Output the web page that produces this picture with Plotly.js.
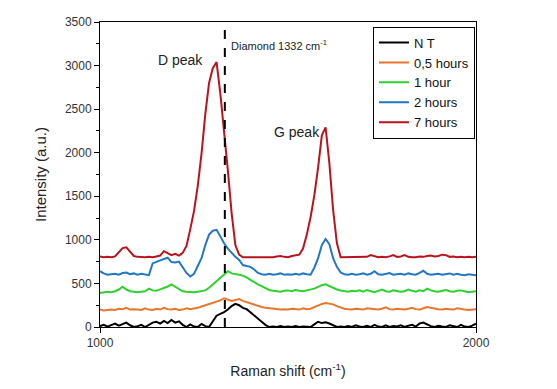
<!DOCTYPE html>
<html>
<head>
<meta charset="utf-8">
<script src="https://cdn.plot.ly/plotly-3.0.1.min.js"></script>
<style>html,body{margin:0;padding:0;background:#fff;}#chart{width:557px;height:389px;}</style>
</head>
<body>
<div id="chart"></div>
<script>
// Raman shift (cm-1)
const ramanShift = [
  1000,1010,1020,1030,1040,1050,1060,1070,1080,1090,
  1100,1110,1120,1130,1140,1150,1160,1170,1180,1190,
  1200,1210,1220,1230,1240,1250,1260,1270,1280,1290,
  1300,1310,1320,1330,1340,1350,1360,1370,1380,1390,
  1400,1410,1420,1430,1440,1450,1460,1470,1480,1490,
  1500,1510,1520,1530,1540,1550,1560,1570,1580,1590,
  1600,1610,1620,1630,1640,1650,1660,1670,1680,1690,
  1700,1710,1720,1730,1740,1750,1760,1770,1780,1790,
  1800,1810,1820,1830,1840,1850,1860,1870,1880,1890,
  1900,1910,1920,1930,1940,1950,1960,1970,1980,1990,
  2000
];
const seriesNames = ["N T", "0,5 hours", "1 hour", "2 hours", "7 hours"];
const seriesColors = ["#000000", "#e8772e", "#2fd12f", "#2277c4", "#b8141e"];

const intensityNT = [
  10,25,5,20,40,15,35,50,20,0,
  10,25,0,30,50,60,40,70,45,80,
  50,65,25,0,30,5,0,35,10,0,
  60,130,150,170,200,240,265,250,220,205,
  170,130,95,60,25,0,5,0,10,0,
  5,0,10,0,5,0,0,30,60,45,
  55,40,20,0,5,0,10,0,20,5,
  0,15,0,25,5,0,20,0,10,5,
  20,0,15,25,5,40,50,30,10,0,
  15,5,0,20,10,0,25,5,0,15,
  40
];
const intensity05h = [
  200,190,195,200,195,210,205,220,200,205,
  200,195,215,200,195,210,200,220,205,200,
  210,195,200,215,205,210,220,235,250,265,
  275,290,305,330,315,300,310,320,300,285,
  270,255,240,230,220,215,210,205,200,205,
  200,210,205,200,215,205,210,230,250,265,
  275,270,260,240,225,210,205,200,210,205,
  200,215,210,205,200,210,225,205,200,210,
  205,200,210,220,205,200,215,230,220,210,
  205,200,210,205,200,215,205,200,195,200,
  205
];
const intensity1h = [
  390,400,405,400,410,430,462,430,410,405,
  400,405,410,440,420,415,430,445,465,490,
  460,430,410,405,400,400,405,410,420,450,
  490,530,570,605,640,615,610,600,590,570,
  540,510,490,470,445,425,415,410,405,415,
  420,410,425,415,410,420,430,440,460,480,
  490,470,450,430,420,410,405,415,410,420,
  405,425,410,400,415,430,410,405,420,410,
  405,410,430,415,405,420,410,440,420,410,
  405,415,425,410,405,415,420,410,400,405,
  410
];
const intensity2h = [
  640,615,600,605,610,600,620,625,605,615,
  600,610,600,595,730,750,765,780,795,745,
  740,750,690,620,580,610,700,790,940,1060,
  1105,1115,1040,960,900,850,805,770,711,700,
  690,660,620,605,600,610,600,605,615,600,
  605,600,610,600,615,605,600,680,790,940,
  1010,950,790,690,625,605,600,610,600,605,
  615,600,610,640,605,600,610,620,600,605,
  610,600,615,605,600,620,645,610,600,605,
  610,600,605,615,600,610,600,595,605,600,
  595
];
const intensity7h = [
  810,800,805,800,810,860,905,915,860,815,
  805,800,800,805,800,810,820,870,850,825,
  840,820,850,930,1120,1330,1620,1990,2440,2800,
  2970,3040,2680,2270,1800,1310,940,830,800,800,
  800,800,800,800,800,805,800,810,815,805,
  800,815,820,830,900,1060,1260,1510,1830,2200,
  2290,1880,1343,964,800,800,800,805,800,800,
  800,805,825,810,800,805,800,810,825,805,
  810,825,805,800,800,810,805,815,820,810,
  815,830,825,805,810,800,805,800,805,800,
  805
];
const seriesValues = [intensityNT, intensity05h, intensity1h, intensity2h, intensity7h];

const diamondLine = 1332;
const yTickVals = [0, 500, 1000, 1500, 2000, 2500, 3000, 3500];
const xTickVals = [1000, 2000];

const FONT = "Arial, 'Liberation Sans', sans-serif";

const traces = seriesNames.map((name, i) => ({
  x: ramanShift,
  y: seriesValues[i],
  type: "scatter",
  mode: "lines",
  name: name,
  line: { color: seriesColors[i], width: 2 }
}));

const layout = {
  width: 557,
  height: 389,
  margin: { l: 100, r: 81, t: 22, b: 62 },
  paper_bgcolor: "#ffffff",
  plot_bgcolor: "#ffffff",
  font: { family: FONT, size: 12, color: "#222" },
  showlegend: true,
  legend: {
    x: 0.726, y: 0.985, xanchor: "left", yanchor: "top",
    bordercolor: "#000", borderwidth: 1, bgcolor: "#fff",
    font: { family: FONT, size: 13, color: "#111" },
    tracegroupgap: 0, itemwidth: 30
  },
  xaxis: {
    range: [1000, 2000],
    tickvals: xTickVals,
    ticktext: xTickVals.map(String),
    ticks: "outside", ticklen: 5, tickwidth: 1, tickcolor: "#000",
    showline: true, linecolor: "#000", linewidth: 1, mirror: true,
    showgrid: false, zeroline: false,
    tickfont: { family: FONT, size: 12, color: "#333" },
    title: { text: "Raman shift (cm<sup>-1</sup>)", standoff: 16, font: { family: FONT, size: 14, color: "#222" } }
  },
  yaxis: {
    range: [0, 3500],
    tickvals: yTickVals,
    ticks: "outside", ticklen: 5, tickwidth: 1, tickcolor: "#000",
    minor: { dtick: 250, ticks: "outside", ticklen: 3, tickcolor: "#000", showgrid: false },
    showline: true, linecolor: "#000", linewidth: 1, mirror: true,
    showgrid: false, zeroline: false,
    tickfont: { family: FONT, size: 12, color: "#333" },
    title: { text: "Intensity (a.u.)", standoff: 14, font: { family: FONT, size: 15, color: "#222" } }
  },
  shapes: [{
    type: "line", xref: "x", yref: "y",
    x0: diamondLine, x1: diamondLine, y0: 0, y1: 3500,
    line: { color: "#000", width: 2, dash: "dash" }
  }],
  annotations: [
    { x: 1343, y: 3236, xref: "x", yref: "y", xanchor: "left", yanchor: "middle", showarrow: false,
      text: "Diamond 1332 cm<sup>-1</sup>", font: { family: FONT, size: 11, color: "#222" } },
    { x: 1213, y: 3064, xref: "x", yref: "y", xanchor: "center", yanchor: "middle", showarrow: false,
      text: "D peak", font: { family: FONT, size: 14, color: "#222" } },
    { x: 1524, y: 2238, xref: "x", yref: "y", xanchor: "center", yanchor: "middle", showarrow: false,
      text: "G peak", font: { family: FONT, size: 14, color: "#222" } }
  ]
};

Plotly.newPlot("chart", traces, layout, { staticPlot: true, displayModeBar: false });
</script>
</body>
</html>
